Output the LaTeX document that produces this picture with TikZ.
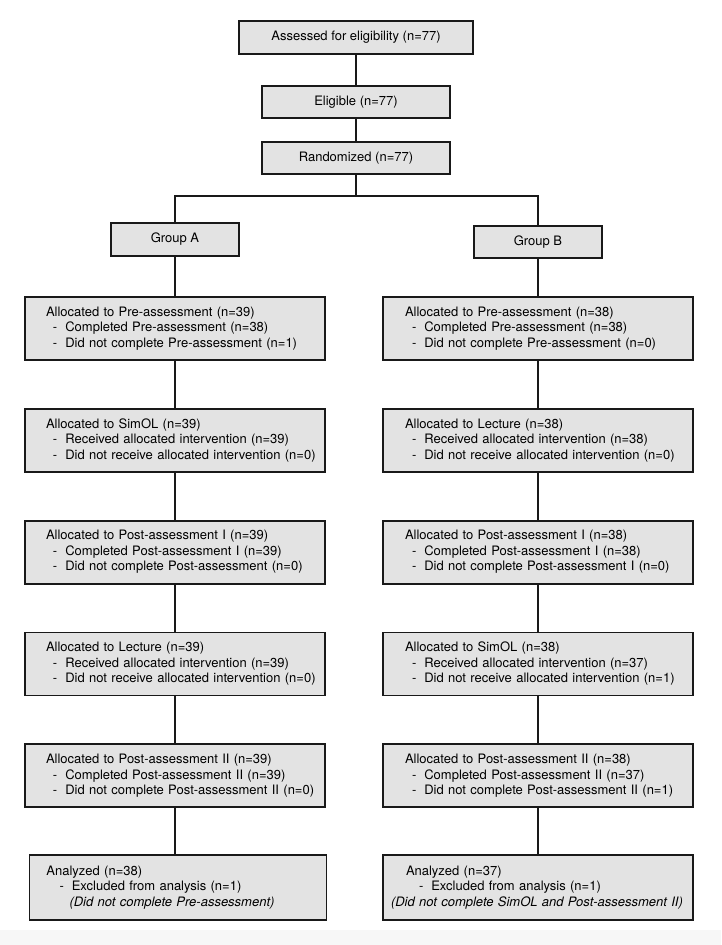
\documentclass[tikz,border=0pt]{standalone}
\usepackage{fontspec}
\setmainfont{TeX Gyre Heros}
\usepackage{xcolor}
\usepackage{tikz}
\usetikzlibrary{positioning}

\definecolor{boxgray}{RGB}{227,227,227}
\definecolor{linegray}{RGB}{25,25,25}
\newcommand{\itm}[2][7pt]{\hspace*{#1}-\hspace{8pt}#2}

\begin{document}
\begin{tikzpicture}[x=1pt,y=-1pt,node distance=111.8pt,on grid,
    font=\fontsize{13}{15.5}\selectfont,
    box/.style={draw=linegray,line width=1.8pt,fill=boxgray,inner sep=0pt},
    head/.style={box,minimum height=33pt},
    stage/.style 2 args={box,minimum height=63pt,text width=#1,align=left,
        execute at begin node={\leftskip=#2}},
    lstage/.style={stage={300pt}{21pt}},
    rstage/.style={stage={310pt}{22pt}},
    link/.style={draw=linegray,line width=1.8pt}]
    \useasboundingbox (0,0) rectangle (721,945);
    \fill[black!3] (0,930) rectangle (721,945);

    \node[head,minimum width=234pt] (assess) at (356,37.5) {Assessed for eligibility (n=77)};
    \node[head,minimum width=188pt,minimum height=32pt] (elig) [below=64.5pt of assess] {Eligible (n=77)};
    \node[head,minimum width=188pt,minimum height=32pt] (rand) [below=56pt of elig] {Randomized (n=77)};
    \node[head,minimum width=128pt] (grpA) at (175,239.5) {Group A};
    \node[head,minimum width=128pt,minimum height=32pt] (grpB) at (538,242) {Group B};
    \coordinate (split) at (356,196);

    % group A
    \node[lstage] (preA) [below=89pt of grpA] {Allocated to Pre-assessment (n=39)\\
        \itm{Completed Pre-assessment (n=38)}\\
        \itm{Did not complete Pre-assessment (n=1)}};
    \node[lstage] (simA) [below=of preA] {Allocated to SimOL (n=39)\\
        \itm{Received allocated intervention (n=39)}\\
        \itm{Did not receive allocated intervention (n=0)}};
    \node[lstage] (postIA) [below=of simA] {Allocated to Post-assessment I (n=39)\\
        \itm{Completed Post-assessment I (n=39)}\\
        \itm{Did not complete Post-assessment (n=0)}};
    \node[lstage] (lectA) [below=of postIA] {Allocated to Lecture (n=39)\\
        \itm{Received allocated intervention (n=39)}\\
        \itm{Did not receive allocated intervention (n=0)}};
    \node[lstage] (postIIA) [below=of lectA] {Allocated to Post-assessment II (n=39)\\
        \itm{Completed Post-assessment II (n=39)}\\
        \itm{Did not complete Post-assessment II (n=0)}};
    \node[stage={297pt}{17pt},minimum height=65pt,xshift=3pt] (anA) [below=of postIIA] {Analyzed (n=38)\\
        \itm[13pt]{Excluded from analysis (n=1)}\\
        \hspace*{23pt}\textit{(Did not complete Pre-assessment)}};

    % group B
    \node[rstage] (preB) [below=86.5pt of grpB] {Allocated to Pre-assessment (n=38)\\
        \itm{Completed Pre-assessment (n=38)}\\
        \itm{Did not complete Pre-assessment (n=0)}};
    \node[rstage] (lectB) [below=of preB] {Allocated to Lecture (n=38)\\
        \itm{Received allocated intervention (n=38)}\\
        \itm{Did not receive allocated intervention (n=0)}};
    \node[rstage] (postIB) [below=of lectB] {Allocated to Post-assessment I (n=38)\\
        \itm{Completed Post-assessment I (n=38)}\\
        \itm{Did not complete Post-assessment I (n=0)}};
    \node[rstage] (simB) [below=of postIB] {Allocated to SimOL (n=38)\\
        \itm{Received allocated intervention (n=37)}\\
        \itm{Did not receive allocated intervention (n=1)}};
    \node[rstage] (postIIB) [below=of simB] {Allocated to Post-assessment II (n=38)\\
        \itm{Completed Post-assessment II (n=37)}\\
        \itm{Did not complete Post-assessment II (n=1)}};
    \node[stage={310pt}{23pt},minimum height=65pt] (anB) [below=of postIIB] {Analyzed (n=37)\\
        \itm[13pt]{Excluded from analysis (n=1)}\\
        \hspace*{-15pt}\textit{(Did not complete SimOL and Post-assessment II)}};

    \path[link]
    (assess) edge (elig)
    (elig) edge (rand)
    (rand) edge (split)
    (grpA) edge (preA)
    (preA) edge (simA)
    (simA) edge (postIA)
    (postIA) edge (lectA)
    (lectA) edge (postIIA)
    (grpB) edge (preB)
    (preB) edge (lectB)
    (lectB) edge (postIB)
    (postIB) edge (simB)
    (simB) edge (postIIB)
    (postIIB) edge (anB);
    \draw[link] (postIIA) -- (postIIA |- anA.north);
    \draw[link] (grpA) |- (split) -| (grpB);

\end{tikzpicture}
\end{document}
